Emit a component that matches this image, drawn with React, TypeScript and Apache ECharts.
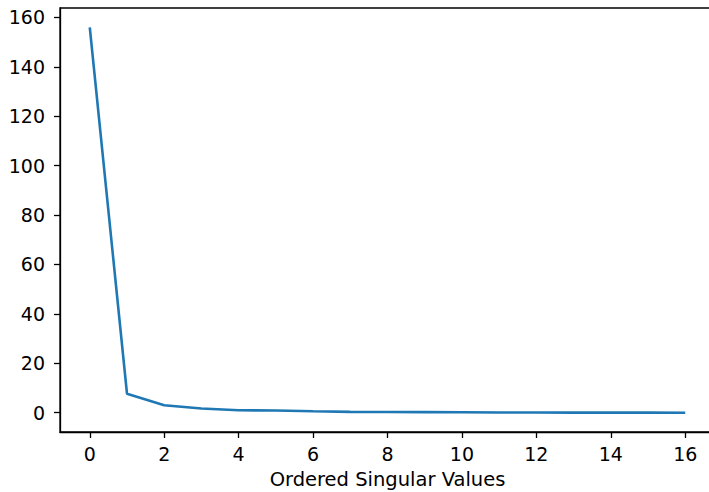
import React, { useEffect, useRef } from "react";
import * as echarts from "echarts";

const indices: number[] = [0, 1, 2, 3, 4, 5, 6, 7, 8, 9, 10, 11, 12, 13, 14, 15, 16];
const singularValues: number[] = [156, 7.7, 3.0, 1.7, 1.0, 0.9, 0.6, 0.35, 0.3, 0.25, 0.2, 0.12, 0.08, 0.06, 0.04, 0.03, 0.01];
const xTicks: number[] = [0, 2, 4, 6, 8, 10, 12, 14, 16];
const yTicks: number[] = [0, 20, 40, 60, 80, 100, 120, 140, 160];
const xName = "Ordered Singular Values";

export default function App() {
  const ref = useRef<HTMLDivElement>(null);
  useEffect(() => {
    if (!ref.current) return;
    const chart = echarts.init(ref.current, undefined, { renderer: "svg" });
    const font = "DejaVu Sans";
    chart.setOption({
      animation: false,
      backgroundColor: "#ffffff",
      grid: {
        left: 60,
        top: 8,
        width: 655,
        height: 424,
        show: true,
        borderColor: "#000000",
        borderWidth: 1.3,
        containLabel: false,
        outerBoundsMode: "none",
      },
      xAxis: {
        type: "value",
        min: -0.8,
        max: 16.8,
        name: xName,
        nameLocation: "middle",
        nameGap: 37,
        nameTextStyle: { fontFamily: font, fontSize: 19.5, color: "#000" },
        axisLine: { show: true, onZero: false, lineStyle: { color: "#000", width: 1.3 } },
        axisTick: { show: true, length: 6, customValues: xTicks, lineStyle: { color: "#000", width: 1.3 } },
        axisLabel: { customValues: xTicks, fontFamily: font, fontSize: 19, color: "#000", margin: 12 },
        splitLine: { show: false },
      },
      yAxis: {
        type: "value",
        min: -7.8,
        max: 163.8,
        axisLine: { show: true, onZero: false, lineStyle: { color: "#000", width: 1.3 } },
        axisTick: { show: true, length: 6, customValues: yTicks, lineStyle: { color: "#000", width: 1.3 } },
        axisLabel: { customValues: yTicks, fontFamily: font, fontSize: 19, color: "#000", margin: 15 },
        splitLine: { show: false },
      },
      series: [
        {
          type: "line",
          data: indices.map((x, i) => [x, singularValues[i]]),
          showSymbol: false,
          symbol: "none",
          lineStyle: { color: "#1f77b4", width: 2.6 },
        },
      ],
    });
    return () => chart.dispose();
  }, []);
  return (
    <div style={{ position: "fixed", left: 0, top: 0, width: 709, height: 492, overflow: "hidden", background: "#fff" }}>
      <div ref={ref} style={{ width: 730, height: 492 }} />
    </div>
  );
}
